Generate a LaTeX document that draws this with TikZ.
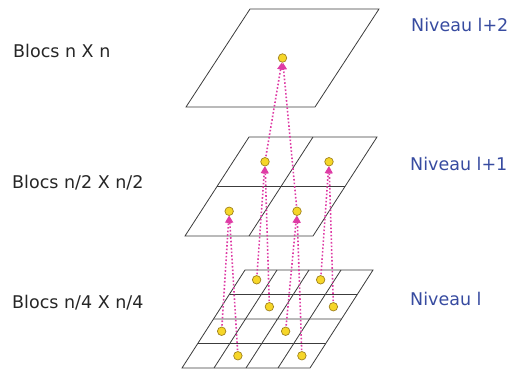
\documentclass[tikz,border=0pt]{standalone}
\usepackage{fontspec}
\setmainfont{DejaVu Sans}
\usetikzlibrary{arrows.meta}
\definecolor{gridc}{RGB}{60,60,60}
\definecolor{dotfill}{RGB}{246,214,40}
\definecolor{dotline}{RGB}{160,130,30}
\definecolor{arrc}{RGB}{222,60,165}
\definecolor{lvl}{RGB}{55,75,160}
\tikzset{
  plane/.style={draw=gridc, line width=0.8pt},
  dot/.style={circle, fill=dotfill, draw=dotline, line width=0.7pt, inner sep=0pt, minimum size=8.5pt},
  arr/.style={draw=arrc, line width=1.6pt, dotted, -{Triangle[length=7pt,width=6.5pt]}, shorten <=1pt},
  lab/.style={anchor=base west, inner sep=0pt, font=\fontsize{17.5}{20}\selectfont, text=black!85},
  lev/.style={anchor=base west, inner sep=0pt, font=\fontsize{17.5}{20}\selectfont, text=lvl}
}
\begin{document}
\begin{tikzpicture}[x=1pt,y=-1pt]
\useasboundingbox (0,0) rectangle (513,369);
% top plane
\begin{scope}[shift={(250pt,-9pt)}, x={(129pt,0pt)}, y={(-64pt,-98pt)}]
  \draw[plane] (0,0) -- (1,0) -- (1,1) -- (0,1) -- cycle;
  \node[dot] (t) at (0.5,0.5) {};
\end{scope}
% middle plane
\begin{scope}[shift={(249pt,-137pt)}, x={(128pt,0pt)}, y={(-64pt,-99pt)}]
  \draw[plane] (0,0) -- (1,0) -- (1,1) -- (0,1) -- cycle;
  \draw[plane] (0.5,0) -- (0.5,1) (0,0.5) -- (1,0.5);
  \node[dot] (m00) at (0.25,0.25) {};
  \node[dot] (m10) at (0.75,0.25) {};
  \node[dot] (m01) at (0.22,0.75) {};
  \node[dot] (m11) at (0.75,0.75) {};
\end{scope}
% bottom plane
\begin{scope}[shift={(245pt,-270pt)}, x={(128pt,0pt)}, y={(-63pt,-98pt)}]
  \draw[plane] (0,0) -- (1,0) -- (1,1) -- (0,1) -- cycle;
  \foreach \k in {0.25,0.5,0.75} {
    \draw[plane] (\k,0) -- (\k,1) (0,\k) -- (1,\k);
  }
  \node[dot] (b00) at (0.14,0.1) {};
  \node[dot] (b20) at (0.64,0.1) {};
  \node[dot] (b11) at (0.375,0.375) {};
  \node[dot] (b31) at (0.875,0.375) {};
  \node[dot] (b02) at (0.125,0.625) {};
  \node[dot] (b22) at (0.625,0.625) {};
  \node[dot] (b13) at (0.375,0.875) {};
  \node[dot] (b33) at (0.875,0.875) {};
\end{scope}
% connectors
\draw[arr] (b00) -- (m00);
\draw[arr] (b11) -- (m00);
\draw[arr] (b20) -- (m10);
\draw[arr] (b31) -- (m10);
\draw[arr] (b02) -- (m01);
\draw[arr] (b13) -- (m01);
\draw[arr] (b22) -- (m11);
\draw[arr] (b33) -- (m11);
\draw[arr] (m00) -- (t);
\draw[arr] (m11) -- (t);
% labels
\node[lab] (l1) at (13,57) {Blocs n X n};
\node[lab] (l2) at (12,188) {Blocs n/2 X n/2};
\node[lab] (l3) at (12,308) {Blocs n/4 X n/4};
\node[lev] (r1) at (411,32) {Niveau l+2};
\node[lev] (r2) at (410,170) {Niveau l+1};
\node[lev] (r3) at (410,305) {Niveau l};
\end{tikzpicture}
\end{document}
